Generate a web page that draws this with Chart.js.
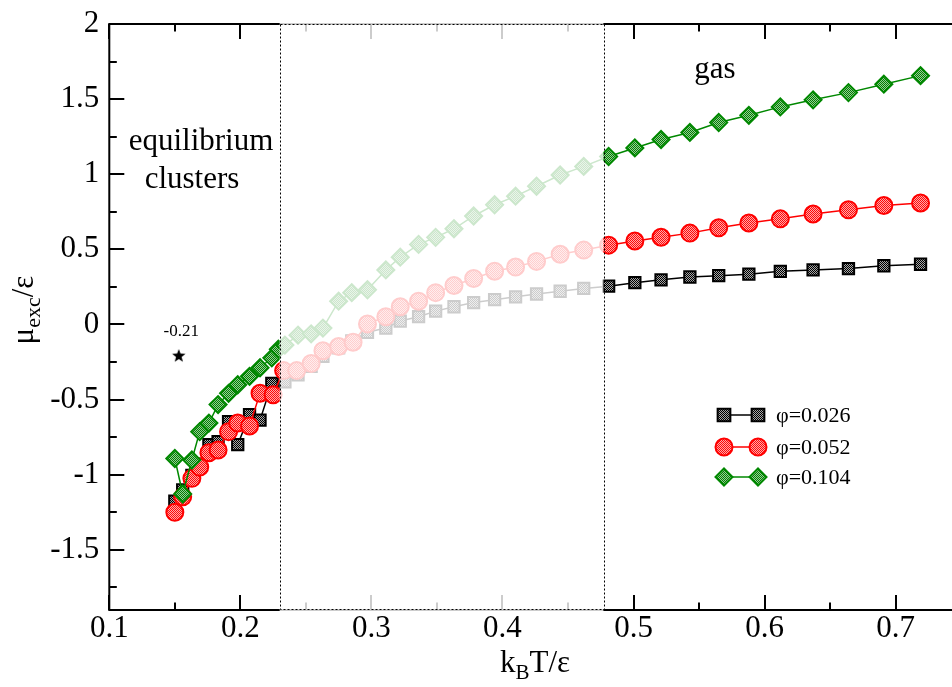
<!DOCTYPE html>
<html>
<head>
<meta charset="utf-8">
<script src="https://cdn.jsdelivr.net/npm/chart.js@4/dist/chart.umd.min.js"></script>
<style>
  html, body { margin: 0; padding: 0; background: #fff; overflow: hidden; }
</style>
</head>
<body>
<canvas id="muChart" width="952" height="687"></canvas>
<script>
// k_B T / eps for each packing fraction, and mu_exc / eps at those temperatures
const tPhi026 = [0.150, 0.156, 0.163, 0.169, 0.176, 0.183, 0.191, 0.198, 0.207, 0.215, 0.224,
                 0.234, 0.244, 0.254, 0.263, 0.275, 0.285, 0.297, 0.311, 0.322, 0.336, 0.349, 0.363,
                 0.378, 0.394, 0.410, 0.426, 0.444, 0.462,
                 0.481, 0.501, 0.521, 0.543, 0.565, 0.588, 0.612, 0.637, 0.664, 0.691, 0.719];
const muPhi026 = [-1.175, -1.10, -1.005, -0.93, -0.80, -0.78, -0.647, -0.80, -0.60, -0.637, -0.392,
                  -0.382, -0.335, -0.279, -0.212, -0.156, -0.109, -0.052, -0.024, 0.023, 0.052, 0.089, 0.118,
                  0.146, 0.165, 0.184, 0.203, 0.221, 0.240,
                  0.255, 0.278, 0.297, 0.316, 0.325, 0.335, 0.354, 0.363, 0.372, 0.391, 0.401];

const tPhi052 = [0.150, 0.156, 0.163, 0.169, 0.176, 0.183, 0.191, 0.198, 0.207, 0.215, 0.225,
                 0.233, 0.243, 0.254, 0.263, 0.275, 0.286, 0.297, 0.311, 0.322, 0.336, 0.349, 0.363,
                 0.378, 0.394, 0.410, 0.426, 0.444, 0.462,
                 0.481, 0.501, 0.521, 0.543, 0.565, 0.588, 0.612, 0.637, 0.664, 0.691, 0.719];
const muPhi052 = [-1.25, -1.147, -1.024, -0.949, -0.854, -0.835, -0.713, -0.656, -0.675, -0.458, -0.467,
                  -0.307, -0.307, -0.259, -0.175, -0.146, -0.118, 0.004, 0.052, 0.118, 0.155, 0.212, 0.259,
                  0.306, 0.354, 0.382, 0.420, 0.467, 0.495,
                  0.528, 0.556, 0.581, 0.608, 0.644, 0.675, 0.703, 0.735, 0.764, 0.792, 0.808];

const tPhi104 = [0.150, 0.156, 0.163, 0.169, 0.176, 0.183, 0.191, 0.198, 0.207, 0.215, 0.224,
                 0.229, 0.234, 0.244, 0.254, 0.263, 0.275, 0.285, 0.297, 0.311, 0.322, 0.336, 0.349,
                 0.363, 0.378, 0.394, 0.410, 0.426, 0.444, 0.462,
                 0.481, 0.501, 0.521, 0.543, 0.565, 0.588, 0.612, 0.637, 0.664, 0.691, 0.719];
const muPhi104 = [-0.892, -1.128, -0.902, -0.713, -0.656, -0.533, -0.458, -0.401, -0.345, -0.288, -0.222,
                  -0.165, -0.137, -0.071, -0.062, -0.024, 0.155, 0.212, 0.231, 0.363, 0.448, 0.533, 0.580,
                  0.637, 0.722, 0.797, 0.854, 0.920, 0.995, 1.052,
                  1.118, 1.175, 1.231, 1.278, 1.344, 1.392, 1.448, 1.495, 1.543, 1.599, 1.656];

const seriesLabels = ['\u03c6=0.026', '\u03c6=0.052', '\u03c6=0.104'];

// single reference point
const starT = [0.153];
const starMu = [-0.21];
const starText = '-0.21';

// temperature window that is greyed out
const fadedWindow = [0.23, 0.477];

const SERIF = '"Liberation Serif", "DejaVu Serif", serif';

function toPoints(xs, ys) {
    return xs.map((x, i) => ({ x: x, y: ys[i] }));
}

// halftone-like fill used inside the symbols
function dotFill(dark, light) {
    const tile = document.createElement('canvas');
    tile.width = 2; tile.height = 2;
    const c = tile.getContext('2d');
    c.fillStyle = light; c.fillRect(0, 0, 2, 2);
    c.fillStyle = dark; c.fillRect(0, 0, 1, 1); c.fillRect(1, 1, 1, 1);
    return c.createPattern(tile, 'repeat');
}

function starImage(r) {
    const cv = document.createElement('canvas');
    cv.width = cv.height = 2 * r + 2;
    const c = cv.getContext('2d');
    c.beginPath();
    for (let i = 0; i < 10; i++) {
        const rr = i % 2 ? r * 0.42 : r;
        const a = -Math.PI / 2 + i * Math.PI / 5;
        c.lineTo(r + 1 + rr * Math.cos(a), r + 1 + rr * Math.sin(a));
    }
    c.closePath();
    c.fillStyle = '#000';
    c.fill();
    return cv;
}

const GREEN = 'rgb(0,136,0)';
const styles = [
    { color: '#000', fill: dotFill('#000000', '#a8a8a8'), shape: 'rect', radius: 8, legendRadius: 9 },
    { color: '#ff0000', fill: dotFill('#ff0a0a', '#ffa8a8'), shape: 'circle', radius: 8.5, legendRadius: 8.5 },
    { color: GREEN, fill: dotFill('#067a06', '#92d292'), shape: 'rectRot', radius: 8.5, legendRadius: 8.5 }
];

function isMajor(v, per) {
    return Math.abs(v * per - Math.round(v * per)) < 1e-6;
}

// draws a string made of normal and subscript pieces, centred on (0,0)
function drawRuns(ctx, runs) {
    let total = 0;
    runs.forEach(r => { ctx.font = r.size + 'px ' + SERIF; r.w = ctx.measureText(r.t).width; total += r.w; });
    let x = -total / 2;
    runs.forEach(r => {
        ctx.font = r.size + 'px ' + SERIF;
        ctx.fillText(r.t, x, r.dy || 0);
        x += r.w;
    });
}

const frame = {
    id: 'frame',
    afterDatasetsDraw(chart) {
        const { ctx, chartArea: a, scales: { x, y } } = chart;
        ctx.save();
        ctx.strokeStyle = '#000';
        ctx.lineWidth = 2;
        ctx.beginPath();
        ctx.moveTo(a.right + 2, a.top); ctx.lineTo(a.left, a.top);
        ctx.lineTo(a.left, a.bottom); ctx.lineTo(a.right + 2, a.bottom);
        ctx.stroke();

        // inward ticks, long on labelled values
        ctx.beginPath();
        x.ticks.forEach(t => {
            const px = Math.round(x.getPixelForValue(t.value));
            const len = isMajor(t.value, 10) ? 15 : 7.5;
            ctx.moveTo(px, a.bottom); ctx.lineTo(px, a.bottom - len);
            ctx.moveTo(px, a.top); ctx.lineTo(px, a.top + len);
        });
        y.ticks.forEach(t => {
            const py = Math.round(y.getPixelForValue(t.value));
            const len = isMajor(t.value, 2) ? 15 : 7.5;
            ctx.moveTo(a.left, py); ctx.lineTo(a.left + len, py);
        });
        ctx.stroke();

        // washed-out temperature window with dotted outline
        const x0 = x.getPixelForValue(fadedWindow[0]);
        const x1 = x.getPixelForValue(fadedWindow[1]);
        ctx.fillStyle = 'rgba(255,255,255,0.8)';
        ctx.fillRect(x0, a.top - 2, x1 - x0, a.bottom - a.top + 4);
        ctx.lineWidth = 1;
        ctx.setLineDash([2, 2]);
        ctx.strokeRect(Math.round(x0) + 0.5, Math.round(a.top) + 0.5, Math.round(x1 - x0), Math.round(a.bottom - a.top) - 1);
        ctx.restore();
    },
    afterDraw(chart) {
        const { ctx, scales: { x, y } } = chart;
        ctx.save();
        ctx.fillStyle = '#000';
        ctx.textBaseline = 'alphabetic';

        // axis titles
        ctx.save();
        ctx.translate(535, 672);
        drawRuns(ctx, [
            { t: 'k', size: 31 }, { t: 'B', size: 21, dy: 7 }, { t: 'T/\u03b5', size: 31 }
        ]);
        ctx.restore();

        ctx.save();
        ctx.translate(33, 310);
        ctx.rotate(-Math.PI / 2);
        drawRuns(ctx, [
            { t: '\u03bc', size: 31 }, { t: 'exc', size: 22, dy: 7 }, { t: '/\u03b5', size: 31 }
        ]);
        ctx.restore();

        // region names
        ctx.textAlign = 'center';
        ctx.font = '31px ' + SERIF;
        ctx.fillText('equilibrium', 201, 150);
        ctx.fillText('clusters', 192, 188);
        ctx.fillText('gas', 715, 78);

        // value next to the reference point
        ctx.font = '17px ' + SERIF;
        ctx.fillText(starText, x.getPixelForValue(starT[0]) + 2.5, y.getPixelForValue(starMu[0]) - 20);

        // legend: symbol - line - symbol, then label
        const rowY = [415, 447, 477];
        const helpers = Chart.helpers;
        styles.forEach((s, i) => {
            const yy = rowY[i];
            ctx.strokeStyle = s.color;
            ctx.lineWidth = 1.5;
            ctx.beginPath(); ctx.moveTo(724, yy); ctx.lineTo(758, yy); ctx.stroke();
            ctx.lineWidth = 2;
            ctx.fillStyle = s.fill;
            [724, 758].forEach(px => helpers.drawPoint(ctx, {
                pointStyle: s.shape, radius: s.legendRadius, borderWidth: 2, rotation: 0
            }, px, yy));
            ctx.fillStyle = '#000';
            ctx.textAlign = 'left';
            ctx.textBaseline = 'middle';
            ctx.font = '22px ' + SERIF;
            ctx.fillText(seriesLabels[i], 776, yy + 1);
        });
        ctx.restore();
    }
};

const seriesData = [
    toPoints(tPhi026, muPhi026),
    toPoints(tPhi052, muPhi052),
    toPoints(tPhi104, muPhi104)
];

const datasets = seriesData.map((pts, i) => ({
    label: seriesLabels[i],
    data: pts,
    showLine: true,
    borderColor: styles[i].color,
    borderWidth: 1.5,
    pointStyle: styles[i].shape,
    pointRadius: styles[i].radius,
    pointBorderWidth: 2,
    pointBorderColor: styles[i].color,
    pointBackgroundColor: styles[i].fill,
    order: 3 - i
}));

datasets.push({
    label: 'reference',
    data: toPoints(starT, starMu),
    showLine: false,
    pointStyle: starImage(7),
    pointRadius: 7,
    order: 0
});

new Chart(document.getElementById('muChart'), {
    type: 'scatter',
    data: { datasets: datasets },
    plugins: [frame],
    options: {
        responsive: false,
        animation: false,
        layout: { autoPadding: false, padding: { top: 14.3, left: 0, right: 0, bottom: 0 } },
        plugins: { legend: { display: false }, tooltip: { enabled: false } },
        scales: {
            x: {
                type: 'linear',
                min: 0.1,
                max: 0.743,
                grid: { display: false, drawTicks: false },
                border: { display: false },
                ticks: {
                    stepSize: 0.05,
                    includeBounds: false,
                    autoSkip: false,
                    maxRotation: 0,
                    padding: 3,
                    color: '#000',
                    font: { family: SERIF, size: 31, lineHeight: 1 },
                    callback: v => isMajor(v, 10) ? v.toFixed(1) : ''
                },
                afterFit: s => { s.height = 77; }
            },
            y: {
                type: 'linear',
                min: -1.9,
                max: 2,
                grid: { display: false, drawTicks: false },
                border: { display: false },
                ticks: {
                    stepSize: 0.25,
                    includeBounds: false,
                    autoSkip: false,
                    padding: 10,
                    color: '#000',
                    font: { family: SERIF, size: 31, lineHeight: 0.9 },
                    callback: v => isMajor(v, 2) ? String(Math.round(v * 2) / 2) : ''
                },
                afterFit: s => { s.width = 109.3; }
            }
        }
    }
});
</script>
</body>
</html>
